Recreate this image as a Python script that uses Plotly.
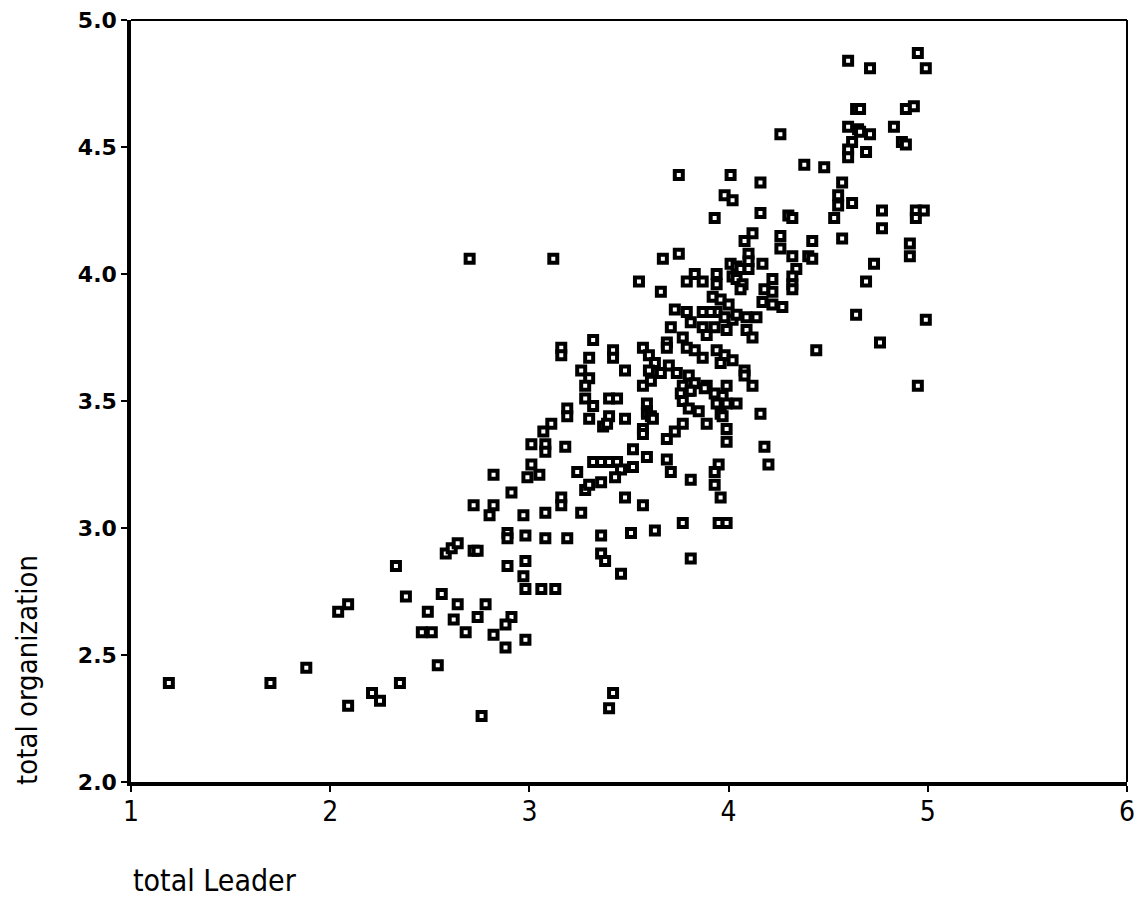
import plotly.graph_objects as go

# total Leader (x) and total organization (y)
total_leader = [
    1.19, 1.70, 1.88, 2.04, 2.09, 2.33, 2.38, 2.09, 2.21, 2.25, 2.35,
    2.91, 2.72, 2.82, 2.80, 2.97, 3.08, 3.16, 3.16, 3.26, 3.48, 3.57,
    2.89, 2.89, 2.98, 3.08, 3.19, 3.36, 3.51, 2.58, 2.61, 2.64, 2.72, 2.74,
    2.89, 2.98, 2.97, 2.98, 3.06, 3.13, 3.36, 3.38, 3.46, 2.56, 2.64, 2.78,
    2.49, 2.62, 2.74, 2.91, 2.88, 2.68, 2.46, 2.51, 2.82, 2.88, 2.98, 2.54,
    3.42, 3.40, 2.76,
    3.32, 3.16, 3.16, 3.30, 3.42, 3.42, 3.48, 3.26, 3.30, 3.28, 3.28, 3.32,
    3.40, 3.44, 3.19, 3.19, 3.30, 3.40, 3.37, 3.39, 3.48, 3.11, 3.07, 3.01,
    3.08, 3.08, 3.18, 3.32, 3.36, 3.40, 3.44, 3.46, 3.43, 3.36, 3.28, 3.30,
    3.24, 3.01, 2.99, 3.05, 2.82, 3.52, 3.52,
    4.12, 4.08, 4.26, 4.26, 4.10, 4.10, 4.17, 4.32, 4.34, 4.32, 4.32, 4.32,
    3.67, 3.75, 3.55, 3.66, 3.79, 3.83, 3.87, 3.94, 3.94,
    4.01, 4.04, 4.06, 4.02, 4.04, 4.07, 4.06, 4.22, 4.18, 4.22, 4.17, 4.22, 4.27,
    3.92, 3.96, 4.00, 3.94, 3.98, 4.02, 3.73, 3.79, 3.87, 4.04, 4.09, 4.14,
    3.81, 3.71, 3.87, 3.93, 3.99, 3.89, 3.77, 4.09, 4.12, 3.69, 3.69, 3.79,
    3.83, 3.87, 3.94, 3.98, 4.02, 3.96, 3.57, 3.60, 3.63, 3.70, 3.60, 3.66,
    3.74, 3.57, 3.61, 3.80, 3.83, 3.80, 3.77, 3.81, 3.76, 3.77, 3.80, 3.85,
    3.93, 3.99, 3.89, 3.88, 3.97, 3.94, 3.99, 4.04, 3.96, 3.97, 4.08, 4.08,
    4.12, 3.59, 3.59, 3.59, 4.16,
    3.61, 3.62, 3.57, 3.57, 3.59, 3.69, 3.73, 3.77, 3.89, 3.99, 3.99, 4.18,
    4.20, 3.69, 3.71, 3.81, 3.95, 3.93, 3.93, 3.96, 3.77, 3.95, 3.99, 3.63, 3.81,
    4.60, 4.71, 4.95, 4.99, 4.64, 4.66, 4.89, 4.93, 4.60, 4.83, 4.65, 4.66,
    4.71, 4.62, 4.87, 4.89, 4.60, 4.60, 4.69, 4.26, 4.38, 4.48, 4.16, 4.57,
    4.55, 4.62, 4.55, 4.53, 4.77, 4.94, 4.98, 4.94, 4.77, 4.16, 4.30, 4.32,
    4.42, 4.57, 4.40, 4.42, 4.73, 4.91, 4.91,
    4.69, 4.64, 4.99, 4.76, 4.44, 4.95,
    3.75, 4.01, 3.98, 4.02, 3.93,
    2.70, 3.12, 4.10, 3.91,
]

total_organization = [
    2.39, 2.39, 2.45, 2.67, 2.70, 2.85, 2.73, 2.30, 2.35, 2.32, 2.39,
    3.14, 3.09, 3.09, 3.05, 3.05, 3.06, 3.12, 3.09, 3.06, 3.12, 3.09,
    2.98, 2.96, 2.97, 2.96, 2.96, 2.97, 2.98, 2.90, 2.92, 2.94, 2.91, 2.91,
    2.85, 2.87, 2.81, 2.76, 2.76, 2.76, 2.90, 2.87, 2.82, 2.74, 2.70, 2.70,
    2.67, 2.64, 2.65, 2.65, 2.62, 2.59, 2.59, 2.59, 2.58, 2.53, 2.56, 2.46,
    2.35, 2.29, 2.26,
    3.74, 3.71, 3.68, 3.67, 3.70, 3.67, 3.62, 3.62, 3.59, 3.56, 3.51, 3.48,
    3.51, 3.51, 3.47, 3.44, 3.43, 3.44, 3.40, 3.41, 3.43, 3.41, 3.38, 3.33,
    3.33, 3.30, 3.32, 3.26, 3.26, 3.26, 3.26, 3.23, 3.20, 3.18, 3.15, 3.17,
    3.22, 3.25, 3.20, 3.21, 3.21, 3.31, 3.24,
    4.16, 4.13, 4.15, 4.10, 4.08, 4.05, 4.04, 4.07, 4.02, 3.99, 3.96, 3.94,
    4.06, 4.08, 3.97, 3.93, 3.97, 4.00, 3.97, 4.00, 3.96,
    4.04, 4.03, 4.02, 3.99, 3.98, 3.96, 3.94, 3.98, 3.94, 3.93, 3.89, 3.88, 3.87,
    3.91, 3.90, 3.88, 3.85, 3.83, 3.82, 3.86, 3.85, 3.85, 3.84, 3.83, 3.83,
    3.81, 3.79, 3.79, 3.79, 3.78, 3.76, 3.75, 3.78, 3.75, 3.73, 3.71, 3.71,
    3.70, 3.67, 3.70, 3.68, 3.66, 3.65, 3.71, 3.68, 3.65, 3.64, 3.62, 3.61,
    3.61, 3.56, 3.58, 3.60, 3.57, 3.54, 3.56, 3.54, 3.53, 3.50, 3.47, 3.46,
    3.53, 3.56, 3.56, 3.55, 3.52, 3.49, 3.49, 3.49, 3.45, 3.44, 3.62, 3.60,
    3.56, 3.49, 3.46, 3.45, 3.45,
    3.44, 3.43, 3.39, 3.37, 3.28, 3.35, 3.38, 3.41, 3.41, 3.39, 3.34, 3.32,
    3.25, 3.27, 3.22, 3.19, 3.25, 3.22, 3.17, 3.12, 3.02, 3.02, 3.02, 2.99, 2.88,
    4.84, 4.81, 4.87, 4.81, 4.65, 4.65, 4.65, 4.66, 4.58, 4.58, 4.57, 4.56,
    4.55, 4.52, 4.52, 4.51, 4.49, 4.46, 4.48, 4.55, 4.43, 4.42, 4.36, 4.36,
    4.31, 4.28, 4.27, 4.22, 4.25, 4.25, 4.25, 4.22, 4.18, 4.24, 4.23, 4.22,
    4.13, 4.14, 4.07, 4.06, 4.04, 4.12, 4.07,
    3.97, 3.84, 3.82, 3.73, 3.70, 3.56,
    4.39, 4.39, 4.31, 4.29, 4.22,
    4.06, 4.06, 4.02, 3.85,
]

x_ticks = [1, 2, 3, 4, 5, 6]
y_ticks = [2.0, 2.5, 3.0, 3.5, 4.0, 4.5, 5.0]

NARROW = "DejaVu Sans Condensed, Liberation Sans Narrow, Roboto Condensed, Roboto"

fig = go.Figure()
fig.add_trace(go.Scatter(
    x=total_leader, y=total_organization, mode="markers",
    marker=dict(symbol="square", size=8, color="white",
                line=dict(color="black", width=4)),
    showlegend=False, hoverinfo="x+y",
))

# plot box at x 131..1127, y 20..782 in the 1138x921 window
W, H = 1138, 921
L, R, T, B = 131, 11, 20, 139
pw, ph = W - L - R, H - T - B

fig.update_layout(
    width=W, height=H,
    margin=dict(l=L, r=R, t=T, b=B, pad=0, autoexpand=False),
    paper_bgcolor="white", plot_bgcolor="white",
    xaxis=dict(range=[1, 6], tickvals=x_ticks, ticktext=[str(v) for v in x_ticks],
               showgrid=False, zeroline=False, showline=True, linecolor="black",
               linewidth=3.5, ticks="outside", ticklen=6, tickwidth=2, tickcolor="black",
               ticklabeloverflow="allow", automargin=False, ticklabelstandoff=-4,
               tickfont=dict(family=NARROW, size=28, color="black")),
    yaxis=dict(range=[2, 5], tickvals=y_ticks, ticktext=[f"{v:.1f}" for v in y_ticks],
               showgrid=False, zeroline=False, showline=True, linecolor="black",
               linewidth=3.5, ticks="outside", ticklen=6, tickwidth=2, tickcolor="black",
               ticklabeloverflow="allow", automargin=False,
               tickfont=dict(family="DejaVu Sans, Verdana", size=22, color="black",
                             weight="bold")),
    shapes=[
        dict(type="line", xref="paper", yref="paper", x0=0, x1=1, y0=1, y1=1,
             line=dict(color="black", width=2)),
        dict(type="line", xref="paper", yref="paper", x0=1, x1=1, y0=0, y1=1,
             line=dict(color="black", width=2)),
    ],
    annotations=[
        dict(text="total Leader", xref="paper", yref="paper",
             x=0, y=(782 - 880) / ph, xanchor="left", yanchor="middle",
             showarrow=False,
             font=dict(family=NARROW, size=30, color="black")),
        dict(text="total organization", xref="paper", yref="paper",
             x=(27 - 131) / pw, y=(782 - 670) / ph, xanchor="center", yanchor="middle",
             textangle=-90, showarrow=False,
             font=dict(family=NARROW, size=29, color="black")),
    ],
)

fig.write_html(
    "out.html",
    config={"displayModeBar": False},
    post_script="document.body.style.margin='0';document.body.style.overflow='hidden';",
)
